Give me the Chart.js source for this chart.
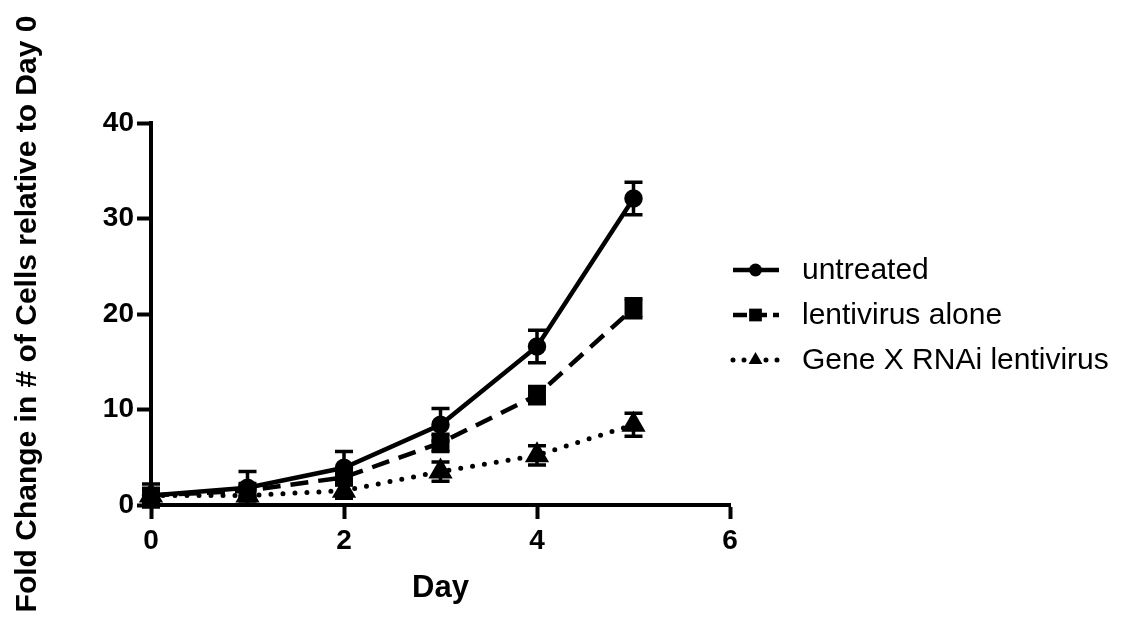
<!DOCTYPE html>
<html><head><meta charset="utf-8">
<script src="https://cdn.jsdelivr.net/npm/chart.js@4.4.0/dist/chart.umd.min.js"></script>
<style>html,body{margin:0;padding:0;background:#fff;}</style>
</head><body>
<canvas id="c" width="1126" height="617"></canvas>
<script>
// ---- data ----
const days = [0, 1, 2, 3, 4, 5];
const seriesNames = ['untreated', 'lentivirus alone', 'Gene X RNAi lentivirus'];
const untreated = [1.0, 1.8, 3.9, 8.4, 16.6, 32.1];
const untreatedErr = [1.2, 1.7, 1.7, 1.7, 1.7, 1.7];
const lentivirus = [1.0, 1.5, 2.9, 6.5, 11.5, 20.6];
const lentivirusErr = [0.7, 0.6, 0.8, 0.9, 0.9, 1.0];
const geneX = [1.0, 1.0, 1.5, 3.5, 5.2, 8.4];
const geneXErr = [0, 0.5, 0.8, 1.0, 1.0, 1.2];
const xTicks = [0, 2, 4, 6];
const yTicks = [0, 10, 20, 30, 40];
const xTitle = 'Day';
const yTitle = 'Fold Change in # of Cells relative to Day 0';

const FONT = "'Liberation Sans', Arial, Helvetica, sans-serif";
Chart.defaults.font.family = FONT;
Chart.defaults.color = '#000';

const pts = arr => days.map((d, i) => ({x: d, y: arr[i]}));

function drawMarker(ctx, style, r, x, y) {
  ctx.beginPath();
  if (style === 'circle') {
    ctx.arc(x, y, r, 0, Math.PI * 2);
  } else if (style === 'rect') {
    const s = r * Math.SQRT1_2;
    ctx.rect(x - s, y - s, 2 * s, 2 * s);
  } else if (style === 'triangle') {
    ctx.moveTo(x, y - r);
    ctx.lineTo(x + r * Math.sin(Math.PI / 3), y + r / 2);
    ctx.lineTo(x - r * Math.sin(Math.PI / 3), y + r / 2);
    ctx.closePath();
  }
  ctx.fill();
}

const errorBars = {
  id: 'errorBars',
  afterDatasetsDraw(chart) {
    const {ctx, scales: {x, y}} = chart;
    ctx.save();
    ctx.strokeStyle = '#000';
    ctx.lineWidth = 3.5;
    ctx.setLineDash([]);
    ctx.lineCap = 'butt';
    chart.data.datasets.forEach(ds => {
      ds.errors.forEach((e, j) => {
        if (!e) return;
        const v = ds.data[j];
        const px = x.getPixelForValue(v.x);
        const t = y.getPixelForValue(v.y + e);
        const b = y.getPixelForValue(v.y - e);
        ctx.beginPath();
        ctx.moveTo(px, t); ctx.lineTo(px, b);
        ctx.moveTo(px - 9, t); ctx.lineTo(px + 9, t);
        ctx.moveTo(px - 9, b); ctx.lineTo(px + 9, b);
        ctx.stroke();
      });
    });
    ctx.restore();
  }
};

const legendPlugin = {
  id: 'sideLegend',
  afterDraw(chart) {
    const ctx = chart.ctx;
    ctx.save();
    chart.data.datasets.forEach((ds, i) => {
      const yy = 270 + 45 * i;
      ctx.strokeStyle = '#000';
      ctx.lineWidth = ds.borderWidth;
      ctx.lineCap = ds.borderCapStyle || 'butt';
      ctx.setLineDash(ds.legendDash || []);
      ctx.beginPath();
      ctx.moveTo(733, yy); ctx.lineTo(779, yy);
      ctx.stroke();
      ctx.setLineDash([]);
      ctx.fillStyle = '#000';
      drawMarker(ctx, ds.pointStyle, ds.legendRadius, 755.5, yy);
      ctx.font = '30px ' + FONT;
      ctx.textBaseline = 'middle';
      ctx.textAlign = 'left';
      ctx.fillText(ds.label, 802, yy + 1);
    });
    ctx.restore();
  }
};

new Chart(document.getElementById('c'), {
  type: 'line',
  data: {
    datasets: [
      {label: seriesNames[0], data: pts(untreated), errors: untreatedErr,
       borderColor: '#000', backgroundColor: '#000', borderWidth: 4.5,
       pointStyle: 'circle', pointRadius: 7, legendRadius: 6.5, clip: false},
      {label: seriesNames[1], data: pts(lentivirus), errors: lentivirusErr,
       borderColor: '#000', backgroundColor: '#000', borderWidth: 4.5, borderDash: [18, 10], legendDash: [14, 6],
       pointStyle: 'rect', pointRadius: 9.5, legendRadius: 9, clip: false},
      {label: seriesNames[2], data: pts(geneX), errors: geneXErr,
       borderColor: '#000', backgroundColor: '#000', borderWidth: 5, borderDash: [0, 12], legendDash: [0, 11],
       borderCapStyle: 'round',
       pointStyle: 'triangle', pointRadius: 9, legendRadius: 8, clip: false}
    ]
  },
  options: {
    responsive: false,
    animation: false,
    events: [],
    layout: {padding: {left: 0, top: 123, right: 396, bottom: 0}},
    plugins: {legend: {display: false}, tooltip: {enabled: false}},
    elements: {line: {tension: 0}, point: {borderWidth: 0}},
    scales: {
      x: {
        type: 'linear', min: 0, max: 6,
        afterFit: s => { s.height = 112; },
        afterBuildTicks: s => { s.ticks = xTicks.map(v => ({value: v})); },
        ticks: {font: {size: 28, weight: 'bold'}, padding: 5, color: '#000'},
        grid: {drawOnChartArea: false, drawTicks: true, tickLength: 14, tickWidth: 4, tickColor: '#000', color: '#000'},
        border: {display: true, color: '#000', width: 4},
        title: {display: true, text: xTitle, font: {size: 31, weight: 'bold'}, color: '#000', padding: {top: 0, bottom: 10}}
      },
      y: {
        type: 'linear', min: 0, max: 40,
        afterFit: s => { s.width = 151; },
        afterBuildTicks: s => { s.ticks = yTicks.map(v => ({value: v})); },
        ticks: {font: {size: 28, weight: 'bold'}, padding: 3, color: '#000'},
        grid: {drawOnChartArea: false, drawTicks: true, tickLength: 14, tickWidth: 4, tickColor: '#000', color: '#000'},
        border: {display: true, color: '#000', width: 4},
        title: {display: true, text: yTitle, font: {size: 30, weight: 'bold'}, color: '#000', padding: {top: 10, bottom: 0}}
      }
    }
  },
  plugins: [errorBars, legendPlugin]
});
</script>
</body></html>
